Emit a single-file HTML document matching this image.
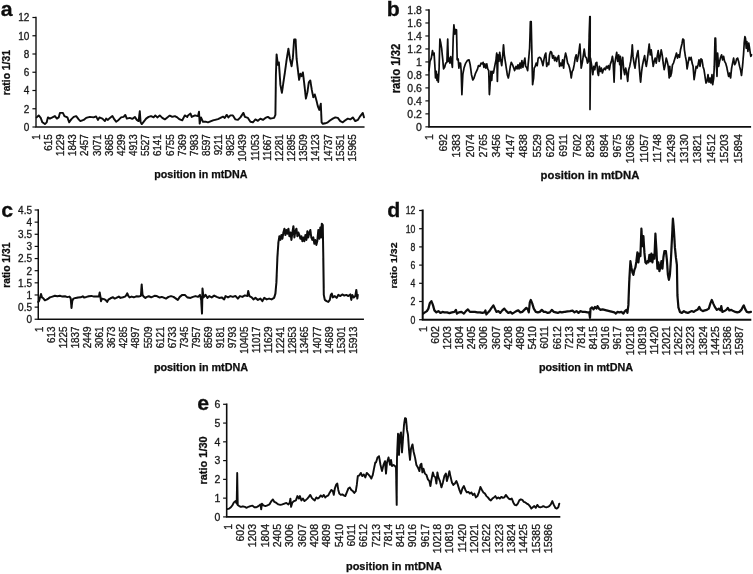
<!DOCTYPE html>
<html lang="en"><head><meta charset="utf-8"><title>mtDNA ratio plots</title>
<style>html,body{margin:0;padding:0;background:#fff}svg{display:block}text{font-family:'Liberation Sans', Arial, Helvetica, sans-serif;fill:#1a1a1a;stroke:#1a1a1a;stroke-width:.3}.ax{stroke:#111;fill:none;stroke-linecap:square}.tk{stroke:#111;stroke-width:1.2;fill:none}.ln{stroke:#0a0a0a;fill:none;stroke-linejoin:round;stroke-linecap:round}.b{font-weight:bold;stroke-width:.25;fill:#0c0c0c;stroke:#0c0c0c}</style></head><body>
<svg width="753" height="574" viewBox="0 0 753 574">
<rect width="753" height="574" fill="#fff"/>
<defs><filter id="soft" x="0" y="0" width="753" height="574" filterUnits="userSpaceOnUse"><feGaussianBlur stdDeviation="0.45"/></filter></defs>
<g filter="url(#soft)">
<g id="panel-a">
<path class="ax" stroke-width="1.4" d="M36.00 17.50V127.00H363.80"/>
<path class="tk" d="M32.40 127.00h3.6"/>
<text font-size="10" text-anchor="end" transform="translate(29.30 130.88) scale(1.000 1)">0</text>
<path class="tk" d="M32.40 108.75h3.6"/>
<text font-size="10" text-anchor="end" transform="translate(29.30 112.63) scale(1.000 1)">2</text>
<path class="tk" d="M32.40 90.50h3.6"/>
<text font-size="10" text-anchor="end" transform="translate(29.30 94.38) scale(1.000 1)">4</text>
<path class="tk" d="M32.40 72.25h3.6"/>
<text font-size="10" text-anchor="end" transform="translate(29.30 76.13) scale(1.000 1)">6</text>
<path class="tk" d="M32.40 54.00h3.6"/>
<text font-size="10" text-anchor="end" transform="translate(29.30 57.88) scale(1.000 1)">8</text>
<path class="tk" d="M32.40 35.75h3.6"/>
<text font-size="10" text-anchor="end" transform="translate(29.30 39.63) scale(1.000 1)">10</text>
<path class="tk" d="M32.40 17.50h3.6"/>
<text font-size="10" text-anchor="end" transform="translate(29.30 21.38) scale(1.000 1)">12</text>
<text font-size="9.8" text-anchor="end" transform="translate(39.87 134.30) rotate(-90) scale(1 1.060)">1</text>
<text font-size="9.8" text-anchor="end" transform="translate(52.02 134.30) rotate(-90) scale(1 1.060)">615</text>
<text font-size="9.8" text-anchor="end" transform="translate(64.17 134.30) rotate(-90) scale(1 1.060)">1229</text>
<text font-size="9.8" text-anchor="end" transform="translate(76.32 134.30) rotate(-90) scale(1 1.060)">1843</text>
<text font-size="9.8" text-anchor="end" transform="translate(88.48 134.30) rotate(-90) scale(1 1.060)">2457</text>
<text font-size="9.8" text-anchor="end" transform="translate(100.63 134.30) rotate(-90) scale(1 1.060)">3071</text>
<text font-size="9.8" text-anchor="end" transform="translate(112.78 134.30) rotate(-90) scale(1 1.060)">3685</text>
<text font-size="9.8" text-anchor="end" transform="translate(124.93 134.30) rotate(-90) scale(1 1.060)">4299</text>
<text font-size="9.8" text-anchor="end" transform="translate(137.08 134.30) rotate(-90) scale(1 1.060)">4913</text>
<text font-size="9.8" text-anchor="end" transform="translate(149.24 134.30) rotate(-90) scale(1 1.060)">5527</text>
<text font-size="9.8" text-anchor="end" transform="translate(161.39 134.30) rotate(-90) scale(1 1.060)">6141</text>
<text font-size="9.8" text-anchor="end" transform="translate(173.54 134.30) rotate(-90) scale(1 1.060)">6755</text>
<text font-size="9.8" text-anchor="end" transform="translate(185.69 134.30) rotate(-90) scale(1 1.060)">7369</text>
<text font-size="9.8" text-anchor="end" transform="translate(197.84 134.30) rotate(-90) scale(1 1.060)">7983</text>
<text font-size="9.8" text-anchor="end" transform="translate(210.00 134.30) rotate(-90) scale(1 1.060)">8597</text>
<text font-size="9.8" text-anchor="end" transform="translate(222.15 134.30) rotate(-90) scale(1 1.060)">9211</text>
<text font-size="9.8" text-anchor="end" transform="translate(234.30 134.30) rotate(-90) scale(1 1.060)">9825</text>
<text font-size="9.8" text-anchor="end" transform="translate(246.45 134.30) rotate(-90) scale(1 1.060)">10439</text>
<text font-size="9.8" text-anchor="end" transform="translate(258.60 134.30) rotate(-90) scale(1 1.060)">11053</text>
<text font-size="9.8" text-anchor="end" transform="translate(270.76 134.30) rotate(-90) scale(1 1.060)">11667</text>
<text font-size="9.8" text-anchor="end" transform="translate(282.91 134.30) rotate(-90) scale(1 1.060)">12281</text>
<text font-size="9.8" text-anchor="end" transform="translate(295.06 134.30) rotate(-90) scale(1 1.060)">12895</text>
<text font-size="9.8" text-anchor="end" transform="translate(307.21 134.30) rotate(-90) scale(1 1.060)">13509</text>
<text font-size="9.8" text-anchor="end" transform="translate(319.36 134.30) rotate(-90) scale(1 1.060)">14123</text>
<text font-size="9.8" text-anchor="end" transform="translate(331.52 134.30) rotate(-90) scale(1 1.060)">14737</text>
<text font-size="9.8" text-anchor="end" transform="translate(343.67 134.30) rotate(-90) scale(1 1.060)">15351</text>
<text font-size="9.8" text-anchor="end" transform="translate(355.82 134.30) rotate(-90) scale(1 1.060)">15965</text>
<text class="b" font-size="20.3" text-anchor="start" transform="translate(0.80 16.20) scale(1.050 1)">a</text>
<text class="b" font-size="10.3" text-anchor="middle" transform="translate(9.89 72.75) rotate(-90) scale(1 1.000)">ratio 1/31</text>
<text class="b" font-size="10.7" text-anchor="middle" transform="translate(200.80 178.00) scale(1.000 1)">position in mtDNA</text>
<polyline class="ln" stroke-width="1.9" points="36.7,117.4 38.7,115.4 40.7,117.9 42.4,122.3 44.9,124.1 46.7,122.3 47.9,117.4 49.9,118.6 52.4,117.4 54.9,116.1 56.9,118.6 58.7,117.4 59.9,112.9 62.9,112.9 64.4,116.1 67.4,117.4 69.2,122.3 71.2,119.4 73.7,116.9 76.2,116.1 78.7,119.4 80.4,121.1 83.6,119.9 86.1,117.9 89.9,116.9 93.6,117.4 96.1,116.4 97.9,119.9 99.4,117.4 102.4,118.6 104.9,121.1 106.1,118.6 107.9,119.9 109.9,117.9 112.4,116.1 114.4,119.4 116.1,121.8 118.6,119.9 121.1,117.4 123.6,116.9 125.3,114.9 126.8,118.6 129.8,117.9 132.3,118.9 134.8,116.9 136.8,119.9 138.6,121.1 139.8,111.1 140.6,122.3 141.8,124.1 143.6,121.8 146.1,118.6 148.6,116.9 151.1,116.1 153.6,117.4 155.3,115.4 157.3,117.4 159.8,115.4 162.3,117.9 164.8,119.4 167.3,117.4 169.8,115.6 172.3,116.9 174.8,116.1 177.3,117.4 179.8,119.4 182.3,120.3 184.8,115.4 187.3,116.9 188.0,115.4 190.5,113.6 191.7,116.9 195.0,115.4 198.0,116.1 199.0,111.6 199.7,123.6 201.0,117.4 203.0,121.8 205.5,121.6 208.0,122.3 213.0,120.3 218.0,119.1 223.0,116.6 224.7,117.9 226.7,114.9 228.4,117.4 230.4,115.4 232.9,115.4 235.4,119.4 237.9,119.9 240.4,117.4 243.4,112.9 244.9,116.9 247.9,117.9 250.4,121.8 252.9,122.3 255.4,119.4 257.9,120.8 260.4,118.6 262.9,119.9 265.4,117.9 267.9,116.9 270.4,118.6 274.1,117.9 275.4,114.9 275.9,74.9 276.6,54.4 277.9,64.9 278.9,62.4 280.4,84.9 281.9,92.9 283.4,82.4 284.9,72.4 286.6,59.9 288.4,48.7 289.9,58.7 291.6,66.2 292.9,57.4 294.1,39.5 295.6,39.5 296.6,58.7 297.9,69.9 299.1,79.9 300.4,73.7 301.6,76.2 302.9,72.4 304.4,84.9 305.9,98.6 307.4,92.4 308.8,82.4 310.3,80.4 311.8,89.9 313.3,97.4 314.8,94.4 316.3,99.9 317.8,106.1 319.3,109.9 320.8,103.6 321.6,122.3 322.8,123.8 325.3,123.3 327.8,122.3 330.3,120.3 332.8,118.6 335.3,117.4 337.8,117.9 340.3,121.1 342.8,122.3 345.3,120.3 347.8,118.6 350.3,119.4 352.8,117.4 355.3,121.1 357.8,119.9 360.3,116.1 362.8,112.9 364.0,117.4"/>
</g>
<g id="panel-b">
<path class="ax" stroke-width="1.6" d="M429.00 10.00V126.85H750.30"/>
<path class="tk" d="M425.40 126.85h3.6"/>
<text font-size="10.5" text-anchor="end" transform="translate(421.90 130.91) scale(1.000 1)">0</text>
<path class="tk" d="M425.40 113.87h3.6"/>
<text font-size="10.5" text-anchor="end" transform="translate(421.90 117.93) scale(1.000 1)">0.2</text>
<path class="tk" d="M425.40 100.88h3.6"/>
<text font-size="10.5" text-anchor="end" transform="translate(421.90 104.94) scale(1.000 1)">0.4</text>
<path class="tk" d="M425.40 87.90h3.6"/>
<text font-size="10.5" text-anchor="end" transform="translate(421.90 91.96) scale(1.000 1)">0.6</text>
<path class="tk" d="M425.40 74.92h3.6"/>
<text font-size="10.5" text-anchor="end" transform="translate(421.90 78.98) scale(1.000 1)">0.8</text>
<path class="tk" d="M425.40 61.93h3.6"/>
<text font-size="10.5" text-anchor="end" transform="translate(421.90 65.99) scale(1.000 1)">1</text>
<path class="tk" d="M425.40 48.95h3.6"/>
<text font-size="10.5" text-anchor="end" transform="translate(421.90 53.01) scale(1.000 1)">1.2</text>
<path class="tk" d="M425.40 35.97h3.6"/>
<text font-size="10.5" text-anchor="end" transform="translate(421.90 40.03) scale(1.000 1)">1.4</text>
<path class="tk" d="M425.40 22.98h3.6"/>
<text font-size="10.5" text-anchor="end" transform="translate(421.90 27.04) scale(1.000 1)">1.6</text>
<path class="tk" d="M425.40 10.00h3.6"/>
<text font-size="10.5" text-anchor="end" transform="translate(421.90 14.06) scale(1.000 1)">1.8</text>
<text font-size="10.5" text-anchor="end" transform="translate(433.48 134.10) rotate(-90) scale(1 1.060)">1</text>
<text font-size="10.5" text-anchor="end" transform="translate(446.88 134.10) rotate(-90) scale(1 1.060)">692</text>
<text font-size="10.5" text-anchor="end" transform="translate(460.28 134.10) rotate(-90) scale(1 1.060)">1383</text>
<text font-size="10.5" text-anchor="end" transform="translate(473.68 134.10) rotate(-90) scale(1 1.060)">2074</text>
<text font-size="10.5" text-anchor="end" transform="translate(487.08 134.10) rotate(-90) scale(1 1.060)">2765</text>
<text font-size="10.5" text-anchor="end" transform="translate(500.48 134.10) rotate(-90) scale(1 1.060)">3456</text>
<text font-size="10.5" text-anchor="end" transform="translate(513.88 134.10) rotate(-90) scale(1 1.060)">4147</text>
<text font-size="10.5" text-anchor="end" transform="translate(527.28 134.10) rotate(-90) scale(1 1.060)">4838</text>
<text font-size="10.5" text-anchor="end" transform="translate(540.68 134.10) rotate(-90) scale(1 1.060)">5529</text>
<text font-size="10.5" text-anchor="end" transform="translate(554.08 134.10) rotate(-90) scale(1 1.060)">6220</text>
<text font-size="10.5" text-anchor="end" transform="translate(567.48 134.10) rotate(-90) scale(1 1.060)">6911</text>
<text font-size="10.5" text-anchor="end" transform="translate(580.88 134.10) rotate(-90) scale(1 1.060)">7602</text>
<text font-size="10.5" text-anchor="end" transform="translate(594.28 134.10) rotate(-90) scale(1 1.060)">8293</text>
<text font-size="10.5" text-anchor="end" transform="translate(607.68 134.10) rotate(-90) scale(1 1.060)">8984</text>
<text font-size="10.5" text-anchor="end" transform="translate(621.08 134.10) rotate(-90) scale(1 1.060)">9675</text>
<text font-size="10.5" text-anchor="end" transform="translate(634.48 134.10) rotate(-90) scale(1 1.060)">10366</text>
<text font-size="10.5" text-anchor="end" transform="translate(647.88 134.10) rotate(-90) scale(1 1.060)">11057</text>
<text font-size="10.5" text-anchor="end" transform="translate(661.28 134.10) rotate(-90) scale(1 1.060)">11748</text>
<text font-size="10.5" text-anchor="end" transform="translate(674.68 134.10) rotate(-90) scale(1 1.060)">12439</text>
<text font-size="10.5" text-anchor="end" transform="translate(688.08 134.10) rotate(-90) scale(1 1.060)">13130</text>
<text font-size="10.5" text-anchor="end" transform="translate(701.48 134.10) rotate(-90) scale(1 1.060)">13821</text>
<text font-size="10.5" text-anchor="end" transform="translate(714.88 134.10) rotate(-90) scale(1 1.060)">14512</text>
<text font-size="10.5" text-anchor="end" transform="translate(728.28 134.10) rotate(-90) scale(1 1.060)">15203</text>
<text font-size="10.5" text-anchor="end" transform="translate(741.68 134.10) rotate(-90) scale(1 1.060)">15894</text>
<text class="b" font-size="20.3" text-anchor="start" transform="translate(386.80 16.00) scale(1.050 1)">b</text>
<text class="b" font-size="11.3" text-anchor="middle" transform="translate(399.59 68.60) rotate(-90) scale(1 1.060)">ratio 1/32</text>
<text class="b" font-size="10.9" text-anchor="middle" transform="translate(590.00 178.75) scale(1.040 1)">position in mtDNA</text>
<polyline class="ln" stroke-width="1.7" points="429.0,70.6 430.0,61.4 431.3,58.1 432.5,50.7 433.3,54.8 434.1,53.1 435.0,68.1 435.5,78.0 436.3,71.4 437.0,80.5 437.6,74.7 438.3,82.2 439.1,68.1 439.9,39.0 440.8,43.2 441.6,48.2 442.6,58.1 443.6,68.9 444.6,67.3 445.8,63.1 446.9,62.3 447.7,39.0 448.4,61.4 449.2,58.1 449.9,63.1 450.7,56.5 451.6,62.3 452.4,67.3 453.2,38.2 453.9,24.9 454.9,34.1 455.5,29.6 456.5,29.9 457.2,59.8 458.2,59.0 458.9,68.1 459.5,63.1 460.5,63.1 461.2,71.4 461.9,94.6 462.8,74.7 464.0,68.1 465.7,63.1 467.3,60.6 469.0,59.8 470.2,64.8 471.5,74.7 472.8,80.0 474.0,78.0 475.6,73.1 477.3,69.7 478.5,65.6 479.8,66.4 481.1,63.1 482.3,63.9 483.1,62.3 483.9,67.3 484.8,63.9 485.8,68.1 486.8,63.9 487.7,68.9 488.7,70.6 489.4,94.6 490.2,83.0 490.9,71.4 491.7,80.5 492.4,71.4 493.4,73.1 494.7,66.4 496.0,59.8 496.7,53.1 497.4,81.4 498.0,54.8 498.9,61.4 499.7,52.3 500.7,59.8 501.7,65.6 502.5,58.1 503.5,44.8 504.3,54.8 505.3,61.4 506.3,68.1 507.3,74.7 508.3,78.0 509.3,73.1 510.3,66.4 511.3,62.3 512.6,64.8 513.8,68.1 514.6,70.6 516.0,66.4 517.1,68.9 518.0,64.8 519.0,68.9 520.0,63.1 520.9,68.1 521.9,60.6 522.9,67.3 523.9,62.3 524.9,58.1 525.6,66.4 526.6,67.3 527.6,70.6 528.6,59.8 529.6,48.2 530.4,21.6 531.2,21.6 531.9,54.8 532.6,84.7 533.6,78.0 534.2,68.1 535.2,66.4 536.2,63.1 537.2,65.6 538.2,58.1 539.5,57.3 540.7,58.1 541.9,61.4 542.9,65.6 543.9,59.8 545.0,54.8 545.8,53.1 546.7,66.4 547.7,63.1 548.7,64.7 549.6,54.8 550.6,51.5 551.6,52.3 552.6,58.1 553.6,55.6 554.6,60.6 555.6,57.3 556.6,61.4 557.6,58.1 558.6,55.6 559.6,66.4 560.6,63.1 561.6,65.6 562.6,59.8 563.6,68.1 564.6,58.1 565.6,53.1 566.6,57.3 567.6,63.1 568.6,64.7 569.6,68.1 570.6,73.0 571.2,78.0 572.2,71.4 573.2,69.7 574.2,64.7 575.2,58.1 576.2,54.8 577.2,61.4 578.2,56.4 579.2,49.8 579.9,44.0 580.5,54.8 581.2,68.1 582.2,63.1 583.2,56.4 584.2,49.0 585.2,56.4 586.5,58.1 587.5,63.1 588.5,61.4 589.2,34.9 589.8,16.6 590.2,16.6 590.0,109.4 590.5,58.1 591.8,66.4 592.8,74.7 593.8,66.4 594.8,69.7 595.8,63.1 596.8,62.3 597.8,73.0 598.5,75.5 599.4,66.4 600.4,71.4 601.4,68.1 602.4,73.0 603.4,69.7 604.4,68.1 605.4,69.7 606.4,66.4 607.4,68.1 608.4,65.6 609.4,69.7 610.4,63.9 611.4,61.4 612.4,56.4 613.1,60.6 614.1,82.2 614.7,64.7 615.7,58.1 616.7,52.3 617.7,61.4 618.7,54.8 619.7,64.7 620.4,56.4 621.0,78.9 621.7,63.1 622.7,57.3 623.7,69.7 624.7,74.7 625.7,68.1 626.7,73.0 627.7,81.3 628.7,69.7 629.7,66.4 630.7,61.4 631.7,53.1 632.3,44.8 633.0,56.4 634.0,63.1 635.0,68.1 636.0,59.8 637.0,54.8 638.0,50.6 639.0,63.1 640.0,76.4 640.6,82.2 641.6,71.4 642.6,64.7 643.6,59.8 644.6,55.6 645.6,63.1 646.3,66.4 647.3,59.8 648.3,51.5 649.2,44.0 650.2,54.8 651.2,49.8 652.2,58.1 653.2,66.4 654.2,61.4 655.2,58.1 656.2,63.1 657.2,56.4 658.2,50.6 659.2,61.4 660.2,56.4 661.2,49.8 662.2,54.8 663.2,63.1 664.2,69.7 665.2,64.7 666.2,58.1 667.2,61.4 668.2,66.4 669.2,78.0 669.8,66.4 670.5,76.4 671.5,73.0 672.5,64.7 673.5,63.1 674.5,59.8 675.5,56.4 676.5,53.1 677.5,58.1 678.5,54.8 679.5,57.3 680.5,49.8 681.5,45.7 682.1,43.2 682.8,39.0 683.8,39.8 684.4,49.8 685.4,56.4 686.4,61.4 687.1,68.9 688.1,63.1 689.1,57.3 690.1,59.8 691.1,57.3 692.1,63.1 693.1,66.4 694.1,79.7 695.1,73.0 696.1,66.4 697.1,68.1 698.1,64.7 699.0,59.8 700.0,66.4 701.0,58.9 702.0,59.8 703.0,66.4 704.0,69.7 705.0,76.4 706.0,83.0 707.0,81.3 708.0,74.7 709.0,82.2 710.0,78.0 711.0,83.0 712.0,74.7 712.7,84.7 713.7,78.0 714.3,66.4 715.0,38.2 715.6,38.2 716.3,63.1 717.0,76.4 717.6,53.1 718.6,66.4 719.6,61.4 720.6,57.3 721.6,54.8 722.6,59.8 723.6,56.4 724.6,61.4 725.6,63.1 726.6,66.4 727.6,71.4 728.6,76.4 729.6,73.0 730.6,78.0 731.6,68.1 732.6,63.1 733.6,58.1 734.6,64.7 735.6,63.1 736.6,58.9 737.6,58.1 738.6,61.4 739.6,66.4 740.5,69.7 741.5,75.5 742.5,66.4 743.5,54.8 744.2,43.2 744.9,36.5 745.5,38.2 746.2,48.1 746.9,41.5 747.9,51.5 748.8,43.2 749.8,49.8 750.8,56.4 751.5,54.8"/>
</g>
<g id="panel-c">
<path class="ax" stroke-width="1.5" d="M38.25 210.00V319.25H363.20"/>
<path class="tk" d="M34.65 319.25h3.6"/>
<text font-size="10" text-anchor="end" transform="translate(32.00 323.13) scale(1.000 1)">0</text>
<path class="tk" d="M34.65 307.11h3.6"/>
<text font-size="10" text-anchor="end" transform="translate(32.00 310.99) scale(1.000 1)">0.5</text>
<path class="tk" d="M34.65 294.97h3.6"/>
<text font-size="10" text-anchor="end" transform="translate(32.00 298.85) scale(1.000 1)">1</text>
<path class="tk" d="M34.65 282.83h3.6"/>
<text font-size="10" text-anchor="end" transform="translate(32.00 286.71) scale(1.000 1)">1.5</text>
<path class="tk" d="M34.65 270.69h3.6"/>
<text font-size="10" text-anchor="end" transform="translate(32.00 274.57) scale(1.000 1)">2</text>
<path class="tk" d="M34.65 258.56h3.6"/>
<text font-size="10" text-anchor="end" transform="translate(32.00 262.44) scale(1.000 1)">2.5</text>
<path class="tk" d="M34.65 246.42h3.6"/>
<text font-size="10" text-anchor="end" transform="translate(32.00 250.30) scale(1.000 1)">3</text>
<path class="tk" d="M34.65 234.28h3.6"/>
<text font-size="10" text-anchor="end" transform="translate(32.00 238.16) scale(1.000 1)">3.5</text>
<path class="tk" d="M34.65 222.14h3.6"/>
<text font-size="10" text-anchor="end" transform="translate(32.00 226.02) scale(1.000 1)">4</text>
<path class="tk" d="M34.65 210.00h3.6"/>
<text font-size="10" text-anchor="end" transform="translate(32.00 213.88) scale(1.000 1)">4.5</text>
<text font-size="9.8" text-anchor="end" transform="translate(42.92 326.60) rotate(-90) scale(1 1.060)">1</text>
<text font-size="9.8" text-anchor="end" transform="translate(54.99 326.60) rotate(-90) scale(1 1.060)">613</text>
<text font-size="9.8" text-anchor="end" transform="translate(67.06 326.60) rotate(-90) scale(1 1.060)">1225</text>
<text font-size="9.8" text-anchor="end" transform="translate(79.13 326.60) rotate(-90) scale(1 1.060)">1837</text>
<text font-size="9.8" text-anchor="end" transform="translate(91.20 326.60) rotate(-90) scale(1 1.060)">2449</text>
<text font-size="9.8" text-anchor="end" transform="translate(103.27 326.60) rotate(-90) scale(1 1.060)">3061</text>
<text font-size="9.8" text-anchor="end" transform="translate(115.34 326.60) rotate(-90) scale(1 1.060)">3673</text>
<text font-size="9.8" text-anchor="end" transform="translate(127.41 326.60) rotate(-90) scale(1 1.060)">4285</text>
<text font-size="9.8" text-anchor="end" transform="translate(139.48 326.60) rotate(-90) scale(1 1.060)">4897</text>
<text font-size="9.8" text-anchor="end" transform="translate(151.55 326.60) rotate(-90) scale(1 1.060)">5509</text>
<text font-size="9.8" text-anchor="end" transform="translate(163.62 326.60) rotate(-90) scale(1 1.060)">6121</text>
<text font-size="9.8" text-anchor="end" transform="translate(175.69 326.60) rotate(-90) scale(1 1.060)">6733</text>
<text font-size="9.8" text-anchor="end" transform="translate(187.76 326.60) rotate(-90) scale(1 1.060)">7345</text>
<text font-size="9.8" text-anchor="end" transform="translate(199.83 326.60) rotate(-90) scale(1 1.060)">7957</text>
<text font-size="9.8" text-anchor="end" transform="translate(211.90 326.60) rotate(-90) scale(1 1.060)">8569</text>
<text font-size="9.8" text-anchor="end" transform="translate(223.97 326.60) rotate(-90) scale(1 1.060)">9181</text>
<text font-size="9.8" text-anchor="end" transform="translate(236.04 326.60) rotate(-90) scale(1 1.060)">9793</text>
<text font-size="9.8" text-anchor="end" transform="translate(248.11 326.60) rotate(-90) scale(1 1.060)">10405</text>
<text font-size="9.8" text-anchor="end" transform="translate(260.18 326.60) rotate(-90) scale(1 1.060)">11017</text>
<text font-size="9.8" text-anchor="end" transform="translate(272.25 326.60) rotate(-90) scale(1 1.060)">11629</text>
<text font-size="9.8" text-anchor="end" transform="translate(284.32 326.60) rotate(-90) scale(1 1.060)">12241</text>
<text font-size="9.8" text-anchor="end" transform="translate(296.39 326.60) rotate(-90) scale(1 1.060)">12853</text>
<text font-size="9.8" text-anchor="end" transform="translate(308.46 326.60) rotate(-90) scale(1 1.060)">13465</text>
<text font-size="9.8" text-anchor="end" transform="translate(320.53 326.60) rotate(-90) scale(1 1.060)">14077</text>
<text font-size="9.8" text-anchor="end" transform="translate(332.60 326.60) rotate(-90) scale(1 1.060)">14689</text>
<text font-size="9.8" text-anchor="end" transform="translate(344.67 326.60) rotate(-90) scale(1 1.060)">15301</text>
<text font-size="9.8" text-anchor="end" transform="translate(356.74 326.60) rotate(-90) scale(1 1.060)">15913</text>
<text class="b" font-size="20.3" text-anchor="start" transform="translate(1.20 217.40) scale(1.050 1)">c</text>
<text class="b" font-size="10.3" text-anchor="middle" transform="translate(10.19 265.20) rotate(-90) scale(1 1.000)">ratio 1/31</text>
<text class="b" font-size="10.8" text-anchor="middle" transform="translate(201.00 371.00) scale(1.000 1)">position in mtDNA</text>
<polyline class="ln" stroke-width="2.0" points="38.3,301.9 39.1,300.8 41.0,293.9 42.0,297.4 43.3,298.3 44.9,300.3 46.6,299.6 48.3,298.6 49.9,297.4 52.4,296.6 54.9,295.8 57.4,296.3 59.9,295.8 62.4,296.6 64.9,296.3 67.4,297.1 69.5,296.6 70.7,298.3 71.5,307.9 72.3,300.8 73.5,298.6 75.7,297.9 78.1,297.4 80.6,297.3 82.8,296.3 84.0,297.4 86.4,296.9 88.9,296.3 91.4,295.9 93.9,296.6 96.4,296.6 98.9,296.6 99.7,292.5 100.4,296.6 101.0,301.2 102.0,298.6 103.9,299.1 105.5,299.9 107.2,301.9 108.4,299.6 110.5,298.3 113.0,297.3 114.7,298.6 116.3,297.9 118.8,296.6 120.5,297.9 123.0,297.3 125.0,296.6 126.3,295.3 127.3,293.3 128.3,295.8 129.6,297.4 131.6,296.6 133.8,297.3 136.2,296.3 138.7,296.6 140.9,295.8 141.7,284.6 142.5,294.9 143.7,296.6 145.4,297.9 147.0,296.9 148.7,296.3 151.2,297.3 152.8,296.6 154.5,295.8 156.8,296.1 159.3,297.4 161.8,296.9 164.3,297.9 166.0,298.6 168.5,296.9 171.0,296.1 173.5,296.9 176.0,298.6 177.8,299.9 179.8,296.9 182.3,294.9 184.8,294.9 187.3,297.4 188.0,297.4 190.5,297.9 193.0,296.9 195.5,296.1 198.0,296.9 200.0,294.9 201.2,299.9 202.0,313.6 202.5,288.6 203.5,297.4 205.5,294.9 207.5,297.9 209.2,296.1 211.7,297.4 214.2,295.6 216.7,296.9 219.2,297.9 221.7,297.4 224.2,299.4 225.5,296.1 228.0,297.4 230.4,296.1 232.9,296.9 235.4,295.9 237.9,298.6 239.9,296.1 242.4,296.9 244.9,295.4 247.4,296.1 248.2,291.1 249.4,296.1 251.7,297.4 253.4,299.4 255.4,297.9 257.9,299.9 260.4,298.6 262.4,301.1 264.2,297.9 266.7,299.4 269.1,298.6 271.6,299.4 274.1,297.9 275.4,293.6 276.4,282.4 277.4,257.4 278.4,242.4 279.4,236.2 280.4,239.9 281.4,235.0 282.4,238.7 283.4,232.5 284.4,228.7 285.4,235.0 286.4,230.0 287.4,233.7 288.4,228.7 289.4,236.2 290.4,232.5 291.4,239.9 292.4,232.5 293.4,226.2 294.4,237.4 295.4,231.2 296.4,228.7 297.4,236.2 298.4,232.5 299.4,235.0 300.4,238.7 301.4,236.2 302.4,241.2 303.4,237.4 304.4,241.2 305.4,235.0 306.4,239.9 307.4,231.2 308.3,237.4 309.3,232.5 310.3,230.0 311.3,237.4 312.3,239.9 313.3,237.4 314.3,243.7 315.3,239.9 316.3,244.9 317.3,241.2 318.3,230.0 319.3,238.7 320.3,227.5 321.1,237.4 321.8,223.7 322.8,225.0 323.3,257.4 323.8,294.9 324.8,299.9 326.6,301.1 328.3,301.9 329.8,299.9 330.8,294.9 331.8,293.6 332.8,297.4 334.8,296.1 336.6,297.9 338.3,294.9 340.3,296.1 342.3,294.4 344.3,295.6 346.3,294.9 348.3,296.1 350.3,294.4 351.3,299.9 352.3,294.9 353.8,297.4 355.3,296.1 356.3,289.9 357.3,298.6 357.8,294.9"/>
</g>
<g id="panel-d">
<path class="ax" stroke-width="2.0" d="M422.70 210.50V319.70H750.30"/>
<path class="tk" d="M419.10 319.70h3.6"/>
<text font-size="10.0" text-anchor="end" transform="translate(415.30 323.58) scale(0.870 1)">0</text>
<path class="tk" d="M419.10 301.50h3.6"/>
<text font-size="10.0" text-anchor="end" transform="translate(415.30 305.38) scale(0.870 1)">2</text>
<path class="tk" d="M419.10 283.30h3.6"/>
<text font-size="10.0" text-anchor="end" transform="translate(415.30 287.18) scale(0.870 1)">4</text>
<path class="tk" d="M419.10 265.10h3.6"/>
<text font-size="10.0" text-anchor="end" transform="translate(415.30 268.98) scale(0.870 1)">6</text>
<path class="tk" d="M419.10 246.90h3.6"/>
<text font-size="10.0" text-anchor="end" transform="translate(415.30 250.78) scale(0.870 1)">8</text>
<path class="tk" d="M419.10 228.70h3.6"/>
<text font-size="10.0" text-anchor="end" transform="translate(415.30 232.58) scale(0.870 1)">10</text>
<path class="tk" d="M419.10 210.50h3.6"/>
<text font-size="10.0" text-anchor="end" transform="translate(415.30 214.38) scale(0.870 1)">12</text>
<text font-size="10.5" text-anchor="end" transform="translate(426.63 326.20) rotate(-90) scale(1 1.060)">1</text>
<text font-size="10.5" text-anchor="end" transform="translate(438.80 326.20) rotate(-90) scale(1 1.060)">602</text>
<text font-size="10.5" text-anchor="end" transform="translate(450.97 326.20) rotate(-90) scale(1 1.060)">1203</text>
<text font-size="10.5" text-anchor="end" transform="translate(463.14 326.20) rotate(-90) scale(1 1.060)">1804</text>
<text font-size="10.5" text-anchor="end" transform="translate(475.31 326.20) rotate(-90) scale(1 1.060)">2405</text>
<text font-size="10.5" text-anchor="end" transform="translate(487.48 326.20) rotate(-90) scale(1 1.060)">3006</text>
<text font-size="10.5" text-anchor="end" transform="translate(499.65 326.20) rotate(-90) scale(1 1.060)">3607</text>
<text font-size="10.5" text-anchor="end" transform="translate(511.82 326.20) rotate(-90) scale(1 1.060)">4208</text>
<text font-size="10.5" text-anchor="end" transform="translate(523.99 326.20) rotate(-90) scale(1 1.060)">4809</text>
<text font-size="10.5" text-anchor="end" transform="translate(536.16 326.20) rotate(-90) scale(1 1.060)">5410</text>
<text font-size="10.5" text-anchor="end" transform="translate(548.33 326.20) rotate(-90) scale(1 1.060)">6011</text>
<text font-size="10.5" text-anchor="end" transform="translate(560.50 326.20) rotate(-90) scale(1 1.060)">6612</text>
<text font-size="10.5" text-anchor="end" transform="translate(572.67 326.20) rotate(-90) scale(1 1.060)">7213</text>
<text font-size="10.5" text-anchor="end" transform="translate(584.84 326.20) rotate(-90) scale(1 1.060)">7814</text>
<text font-size="10.5" text-anchor="end" transform="translate(597.01 326.20) rotate(-90) scale(1 1.060)">8415</text>
<text font-size="10.5" text-anchor="end" transform="translate(609.18 326.20) rotate(-90) scale(1 1.060)">9016</text>
<text font-size="10.5" text-anchor="end" transform="translate(621.35 326.20) rotate(-90) scale(1 1.060)">9617</text>
<text font-size="10.5" text-anchor="end" transform="translate(633.52 326.20) rotate(-90) scale(1 1.060)">10218</text>
<text font-size="10.5" text-anchor="end" transform="translate(645.69 326.20) rotate(-90) scale(1 1.060)">10819</text>
<text font-size="10.5" text-anchor="end" transform="translate(657.86 326.20) rotate(-90) scale(1 1.060)">11420</text>
<text font-size="10.5" text-anchor="end" transform="translate(670.03 326.20) rotate(-90) scale(1 1.060)">12021</text>
<text font-size="10.5" text-anchor="end" transform="translate(682.20 326.20) rotate(-90) scale(1 1.060)">12622</text>
<text font-size="10.5" text-anchor="end" transform="translate(694.37 326.20) rotate(-90) scale(1 1.060)">13223</text>
<text font-size="10.5" text-anchor="end" transform="translate(706.54 326.20) rotate(-90) scale(1 1.060)">13824</text>
<text font-size="10.5" text-anchor="end" transform="translate(718.71 326.20) rotate(-90) scale(1 1.060)">14425</text>
<text font-size="10.5" text-anchor="end" transform="translate(730.88 326.20) rotate(-90) scale(1 1.060)">15386</text>
<text font-size="10.5" text-anchor="end" transform="translate(743.05 326.20) rotate(-90) scale(1 1.060)">15987</text>
<text class="b" font-size="20.3" text-anchor="start" transform="translate(387.20 216.60) scale(1.050 1)">d</text>
<text class="b" font-size="10.5" text-anchor="middle" transform="translate(397.26 265.50) rotate(-90) scale(1 0.920)">ratio 1/32</text>
<text class="b" font-size="10.8" text-anchor="middle" transform="translate(586.00 370.60) scale(1.000 1)">position in mtDNA</text>
<polyline class="ln" stroke-width="2.2" points="423.2,313.6 424.9,312.4 426.9,311.1 428.4,308.6 429.9,302.9 431.4,301.1 432.9,304.9 434.4,310.4 436.4,312.4 438.4,311.1 440.4,312.9 442.4,311.9 444.4,312.4 446.9,312.4 449.4,313.1 451.9,312.4 454.4,311.9 455.9,309.9 456.9,313.6 458.9,312.4 461.4,311.9 463.9,313.6 465.9,311.1 467.9,309.4 469.9,311.9 472.4,311.9 474.9,311.9 477.4,312.4 479.9,312.4 482.4,312.9 484.4,312.4 485.4,310.4 486.4,314.4 488.1,312.4 489.9,310.4 491.9,307.4 493.4,305.4 494.9,308.6 496.4,311.9 498.3,311.1 500.3,312.9 502.3,310.4 504.3,308.6 506.3,311.1 508.3,312.9 510.3,311.9 512.3,313.6 514.3,312.4 516.3,311.1 518.3,310.4 520.3,312.4 522.3,311.9 524.3,309.9 526.3,307.9 527.8,309.4 528.8,312.4 529.8,302.4 530.8,299.9 532.3,303.6 533.8,308.6 535.8,311.9 537.8,312.4 539.8,311.9 541.8,309.9 543.8,311.9 545.8,311.9 547.8,312.9 549.8,312.4 551.8,309.9 553.8,311.9 555.8,312.4 557.8,312.9 559.8,311.9 561.8,312.4 564.3,311.9 565.0,311.9 567.5,311.4 570.0,311.1 572.5,310.6 574.5,312.4 576.5,311.1 578.5,312.9 580.5,311.1 582.5,311.9 585.0,311.9 587.5,312.4 589.2,312.4 590.0,317.8 590.5,308.6 592.0,307.4 593.5,309.4 595.0,306.9 596.5,308.6 597.5,306.1 599.0,308.6 600.5,309.9 602.5,309.4 604.5,309.9 606.4,310.4 608.4,310.9 610.4,311.4 612.4,311.9 614.4,312.4 615.9,313.6 617.4,311.9 619.4,312.4 621.4,311.9 623.4,313.6 624.9,311.1 626.4,309.9 627.4,312.9 628.4,304.9 629.2,282.4 629.9,269.9 630.4,261.2 631.4,267.4 632.4,272.4 633.4,274.9 634.4,269.9 635.4,267.4 636.4,261.2 637.4,252.4 638.4,262.4 639.4,253.7 640.4,256.2 641.4,228.7 642.4,246.2 643.4,236.2 644.4,252.4 645.4,262.4 646.4,263.7 647.4,261.2 648.4,262.4 649.4,254.9 650.4,261.2 651.4,253.7 652.4,262.4 653.4,254.9 654.4,258.7 655.4,233.7 656.4,249.9 657.4,268.7 658.4,262.4 659.4,271.2 660.4,267.4 661.4,261.2 662.4,268.7 663.4,257.4 664.4,251.2 665.9,251.2 666.9,259.9 667.9,274.9 668.9,279.9 669.9,274.9 670.9,259.9 671.9,239.9 672.9,218.7 673.9,230.0 674.9,247.4 675.9,257.4 676.9,264.9 677.4,294.9 678.4,307.4 679.9,311.9 681.9,312.9 683.9,311.1 685.8,312.4 687.8,312.9 689.8,311.9 691.8,311.1 693.8,311.9 695.8,310.4 697.8,309.4 699.3,306.9 700.8,309.9 702.8,311.1 704.8,310.4 706.8,309.9 708.8,308.6 710.3,303.6 711.8,299.9 713.3,303.6 714.8,306.9 716.8,309.9 718.8,308.6 720.3,310.4 721.3,306.1 722.3,311.9 724.3,311.1 726.3,309.9 727.8,307.9 729.3,310.4 731.3,309.9 733.3,311.1 735.3,311.9 737.3,312.4 739.3,311.9 741.3,309.9 742.8,306.9 743.8,305.4 745.3,309.4 746.8,311.9 748.8,312.4 751.0,311.9"/>
</g>
<g id="panel-e">
<path class="ax" stroke-width="1.6" d="M226.70 404.30V516.90H559.50"/>
<path class="tk" d="M223.10 516.90h3.6"/>
<text font-size="10.0" text-anchor="end" transform="translate(220.40 520.78) scale(1.050 1)">0</text>
<path class="tk" d="M223.10 498.13h3.6"/>
<text font-size="10.0" text-anchor="end" transform="translate(220.40 502.01) scale(1.050 1)">1</text>
<path class="tk" d="M223.10 479.37h3.6"/>
<text font-size="10.0" text-anchor="end" transform="translate(220.40 483.25) scale(1.050 1)">2</text>
<path class="tk" d="M223.10 460.60h3.6"/>
<text font-size="10.0" text-anchor="end" transform="translate(220.40 464.48) scale(1.050 1)">3</text>
<path class="tk" d="M223.10 441.83h3.6"/>
<text font-size="10.0" text-anchor="end" transform="translate(220.40 445.71) scale(1.050 1)">4</text>
<path class="tk" d="M223.10 423.07h3.6"/>
<text font-size="10.0" text-anchor="end" transform="translate(220.40 426.95) scale(1.050 1)">5</text>
<path class="tk" d="M223.10 404.30h3.6"/>
<text font-size="10.0" text-anchor="end" transform="translate(220.40 408.18) scale(1.050 1)">6</text>
<text font-size="10.5" text-anchor="end" transform="translate(231.68 524.00) rotate(-90) scale(1 1.060)">1</text>
<text font-size="10.5" text-anchor="end" transform="translate(244.00 524.00) rotate(-90) scale(1 1.060)">602</text>
<text font-size="10.5" text-anchor="end" transform="translate(256.32 524.00) rotate(-90) scale(1 1.060)">1203</text>
<text font-size="10.5" text-anchor="end" transform="translate(268.64 524.00) rotate(-90) scale(1 1.060)">1804</text>
<text font-size="10.5" text-anchor="end" transform="translate(280.96 524.00) rotate(-90) scale(1 1.060)">2405</text>
<text font-size="10.5" text-anchor="end" transform="translate(293.28 524.00) rotate(-90) scale(1 1.060)">3006</text>
<text font-size="10.5" text-anchor="end" transform="translate(305.60 524.00) rotate(-90) scale(1 1.060)">3607</text>
<text font-size="10.5" text-anchor="end" transform="translate(317.92 524.00) rotate(-90) scale(1 1.060)">4208</text>
<text font-size="10.5" text-anchor="end" transform="translate(330.24 524.00) rotate(-90) scale(1 1.060)">4809</text>
<text font-size="10.5" text-anchor="end" transform="translate(342.56 524.00) rotate(-90) scale(1 1.060)">5410</text>
<text font-size="10.5" text-anchor="end" transform="translate(354.88 524.00) rotate(-90) scale(1 1.060)">6011</text>
<text font-size="10.5" text-anchor="end" transform="translate(367.20 524.00) rotate(-90) scale(1 1.060)">6612</text>
<text font-size="10.5" text-anchor="end" transform="translate(379.52 524.00) rotate(-90) scale(1 1.060)">7213</text>
<text font-size="10.5" text-anchor="end" transform="translate(391.84 524.00) rotate(-90) scale(1 1.060)">7814</text>
<text font-size="10.5" text-anchor="end" transform="translate(404.16 524.00) rotate(-90) scale(1 1.060)">8415</text>
<text font-size="10.5" text-anchor="end" transform="translate(416.48 524.00) rotate(-90) scale(1 1.060)">9016</text>
<text font-size="10.5" text-anchor="end" transform="translate(428.80 524.00) rotate(-90) scale(1 1.060)">9617</text>
<text font-size="10.5" text-anchor="end" transform="translate(441.12 524.00) rotate(-90) scale(1 1.060)">10218</text>
<text font-size="10.5" text-anchor="end" transform="translate(453.44 524.00) rotate(-90) scale(1 1.060)">10819</text>
<text font-size="10.5" text-anchor="end" transform="translate(465.76 524.00) rotate(-90) scale(1 1.060)">11420</text>
<text font-size="10.5" text-anchor="end" transform="translate(478.08 524.00) rotate(-90) scale(1 1.060)">12021</text>
<text font-size="10.5" text-anchor="end" transform="translate(490.40 524.00) rotate(-90) scale(1 1.060)">12622</text>
<text font-size="10.5" text-anchor="end" transform="translate(502.72 524.00) rotate(-90) scale(1 1.060)">13223</text>
<text font-size="10.5" text-anchor="end" transform="translate(515.04 524.00) rotate(-90) scale(1 1.060)">13824</text>
<text font-size="10.5" text-anchor="end" transform="translate(527.36 524.00) rotate(-90) scale(1 1.060)">14425</text>
<text font-size="10.5" text-anchor="end" transform="translate(539.68 524.00) rotate(-90) scale(1 1.060)">15385</text>
<text font-size="10.5" text-anchor="end" transform="translate(552.00 524.00) rotate(-90) scale(1 1.060)">15986</text>
<text class="b" font-size="20.3" text-anchor="start" transform="translate(197.20 409.90) scale(1.050 1)">e</text>
<text class="b" font-size="11" text-anchor="middle" transform="translate(207.23 460.40) rotate(-90) scale(1 1.050)">ratio 1/30</text>
<text class="b" font-size="11.0" text-anchor="middle" transform="translate(393.90 570.30) scale(1.000 1)">position in mtDNA</text>
<polyline class="ln" stroke-width="1.9" points="227.2,509.1 229.2,508.6 230.9,507.3 232.4,505.3 233.9,502.4 235.4,501.1 236.7,503.6 237.2,472.9 237.7,504.9 239.2,506.1 240.9,506.8 242.9,506.3 244.9,506.8 246.7,507.8 248.4,506.8 250.4,506.1 252.4,505.6 254.4,507.3 256.4,507.3 258.4,506.1 260.4,504.4 261.2,509.3 261.9,503.6 263.4,505.3 265.4,506.1 267.4,505.3 269.4,504.4 271.4,501.1 272.9,499.4 274.4,501.9 276.4,502.9 278.4,504.4 280.4,504.9 282.4,504.4 284.4,503.6 286.4,502.9 288.4,504.4 289.6,502.9 290.4,498.6 291.1,506.8 292.4,502.4 294.1,501.1 295.9,500.4 297.4,496.1 298.9,498.6 299.9,496.1 301.4,500.4 302.9,498.6 304.4,501.1 305.9,499.9 307.4,498.6 308.8,496.9 310.3,494.9 311.8,497.9 313.3,499.4 314.8,500.4 316.3,497.4 317.8,498.6 319.3,497.4 320.8,495.4 322.3,496.9 323.8,494.9 325.3,497.4 326.8,496.1 328.3,495.4 329.8,492.4 331.3,489.9 332.8,491.1 333.8,494.9 334.8,488.6 336.3,484.4 337.3,483.6 338.3,489.9 339.3,493.6 340.8,494.9 342.3,494.4 343.8,495.4 345.3,496.1 346.8,492.4 348.3,488.6 349.8,487.4 351.3,489.9 352.8,491.1 354.3,492.9 355.8,491.1 356.8,484.9 357.8,476.1 359.3,475.4 360.8,472.9 362.3,476.1 363.8,474.4 365.3,477.4 366.8,472.9 368.3,474.4 369.8,476.1 371.3,478.6 372.8,474.9 374.0,468.6 375.3,462.4 376.0,462.4 377.5,457.4 379.0,456.2 380.5,464.9 382.0,471.1 383.5,464.9 385.0,461.2 386.0,473.6 387.0,462.4 388.5,457.4 390.0,464.9 391.0,459.9 392.0,466.1 393.5,464.9 395.0,466.1 396.0,467.4 396.7,504.9 397.0,457.4 398.0,433.7 399.0,454.9 400.0,434.9 401.0,432.4 402.0,452.4 403.0,438.7 404.0,425.0 405.0,418.2 406.0,418.7 407.0,429.9 408.0,434.9 409.0,449.9 410.0,459.9 411.0,448.7 412.5,444.4 413.5,451.2 415.0,457.4 416.4,464.9 417.9,467.4 419.4,471.1 420.4,464.9 421.4,463.7 422.4,472.4 423.4,468.6 424.9,473.6 426.4,474.9 427.9,479.4 429.4,481.1 430.4,486.1 431.4,479.9 432.9,472.4 433.9,476.1 435.4,477.4 436.4,483.6 437.4,472.4 438.4,477.4 439.9,481.1 441.4,487.4 442.9,482.4 444.4,476.1 445.9,473.6 446.9,481.1 447.9,477.4 449.4,471.1 450.4,476.1 451.9,482.4 453.4,484.9 454.9,483.6 456.4,481.1 457.9,484.9 459.4,489.9 460.9,493.6 462.4,488.6 463.9,486.1 465.4,489.9 466.9,492.4 468.4,491.9 469.9,493.6 471.4,492.4 472.9,494.9 474.4,493.6 475.9,497.4 477.4,496.1 478.9,492.4 480.4,486.9 481.9,489.9 483.4,492.4 484.9,493.6 486.4,496.1 487.9,497.4 489.4,499.4 490.9,500.4 492.4,498.6 493.9,497.4 495.4,496.1 496.8,498.6 498.3,497.4 499.8,498.6 501.3,496.9 502.8,497.9 504.3,497.4 505.8,494.9 507.3,496.9 508.8,498.6 510.3,499.4 511.8,498.6 513.3,502.4 514.8,504.9 516.3,505.3 517.8,503.6 519.3,500.4 520.8,499.4 522.3,499.9 523.8,501.9 525.3,502.4 526.8,503.6 528.3,504.4 529.8,506.1 531.3,508.6 532.8,507.3 534.3,506.1 535.8,507.8 537.3,504.9 538.8,506.8 540.3,507.3 541.8,506.8 543.3,506.1 544.8,506.8 546.3,507.3 547.8,506.8 549.3,506.1 550.8,504.4 552.3,501.1 553.8,504.9 555.3,507.8 556.8,508.6 558.3,507.3 559.3,503.6"/>
</g>
</g>
</svg></body></html>
